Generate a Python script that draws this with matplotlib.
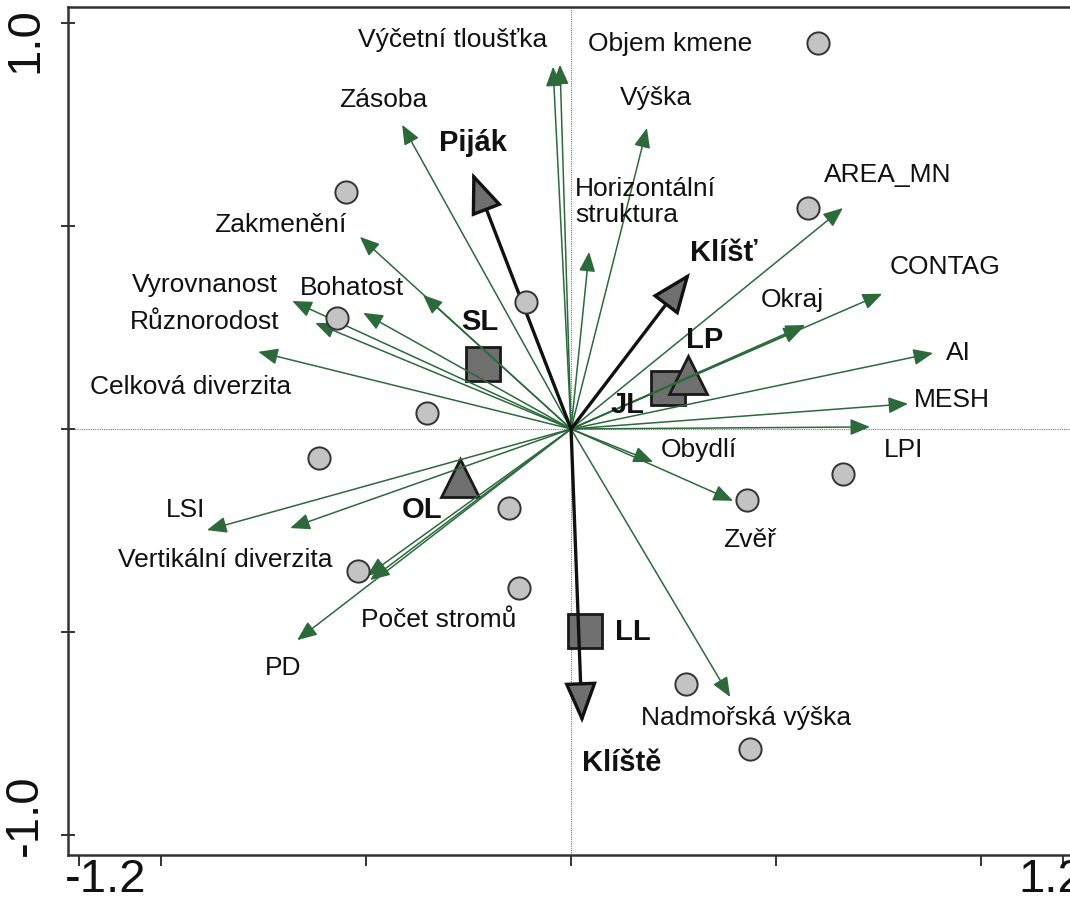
import numpy as np
import matplotlib
matplotlib.use("Agg")
import matplotlib.pyplot as plt
import matplotlib.transforms as mtransforms
from matplotlib.patches import FancyArrowPatch

plt.rcParams['font.family'] = ['Liberation Sans', 'DejaVu Sans']

# environmental variables (green arrows), tips in ordination units
env_names = ['Výčetní tloušťka', 'Objem kmene', 'Zásoba', 'Výška', 'Horizontální struktura',
             'AREA_MN', 'Zakmenění', 'Bohatost', 'Bohatost 2', 'Vyrovnanost', 'Různorodost',
             'Celková diverzita', 'CONTAG', 'Okraj', 'Okraj 2', 'AI', 'MESH', 'LPI', 'Obydlí',
             'Zvěř', 'Nadmořská výška', 'LSI', 'Vertikální diverzita', 'Počet stromů',
             'Počet stromů 2', 'PD']
env_x = [-0.044, -0.027, -0.412, 0.185, 0.044, 0.663, -0.515, -0.361, -0.507, -0.680, -0.624,
         -0.763, 0.759, 0.571, 0.566, 0.883, 0.822, 0.729, 0.200, 0.395, 0.388, -0.888, -0.685,
         -0.490, -0.498, -0.668]
env_y = [0.892, 0.897, 0.749, 0.741, 0.436, 0.544, 0.473, 0.330, 0.286, 0.315, 0.261, 0.190,
         0.333, 0.256, 0.250, 0.187, 0.062, 0.005, -0.081, -0.177, -0.660, -0.249, -0.244,
         -0.372, -0.362, -0.520]

# labels of the variables
lab_text = ['Výčetní tloušťka', 'Objem kmene', 'Zásoba', 'Výška', 'AREA_MN', 'Zakmenění',
            'CONTAG', 'Vyrovnanost', 'Bohatost', 'Okraj', 'Různorodost', 'AI', 'Celková diverzita',
            'MESH', 'LPI', 'Obydlí', 'LSI', 'Zvěř', 'Vertikální diverzita', 'Počet stromů', 'PD',
            'Nadmořská výška']
lab_x = [-0.288, 0.241, -0.459, 0.207, 0.773, -0.710, 0.912, -0.893, -0.534, 0.539, -0.893,
         0.944, -0.929, 0.929, 0.810, 0.312, -0.941, 0.435, -0.844, -0.324, -0.702, 0.426]
lab_y = [0.958, 0.948, 0.810, 0.815, 0.626, 0.502, 0.399, 0.355, 0.347, 0.318, 0.264, 0.187,
         0.103, 0.071, -0.052, -0.052, -0.200, -0.273, -0.323, -0.470, -0.589, -0.712]

# species (black arrows)
sp_names = ['Piják', 'Klíšť', 'Klíště']
sp_x = [-0.241, 0.290, 0.027]
sp_y = [0.631, 0.384, -0.724]
sp_lab_x = [-0.239, 0.373, 0.124]
sp_lab_y = [0.704, 0.433, -0.823]

# centroids
sq_names = ['SL', 'JL', 'LL']
sq_x = [-0.215, 0.237, 0.034]
sq_y = [0.160, 0.101, -0.498]
sq_lab_x = [-0.222, 0.137, 0.151]
sq_lab_y = [0.264, 0.059, -0.500]
tri_names = ['LP', 'OL']
tri_x = [0.285, -0.271]
tri_y = [0.133, -0.121]
tri_lab_x = [0.327, -0.363]
tri_lab_y = [0.219, -0.200]

# samples
smp_x = [0.602, -0.549, 0.578, -0.110, -0.571, -0.351, -0.615, -0.151, -0.520, -0.127,
         0.280, 0.437, 0.429, 0.663]
smp_y = [0.951, 0.584, 0.544, 0.313, 0.273, 0.039, -0.071, -0.195, -0.350, -0.392,
         -0.628, -0.788, -0.175, -0.111]

green = '#2c6a3c'

fig = plt.figure(figsize=(10.7, 9.1), dpi=100)
ax = fig.add_axes([68/1070, 55/910, 1 - 68/1070, 848/910])
ax.set_xlim(-1.227, 1.217)
ax.set_ylim(-1.049, 1.039)

ax.axhline(0, color='#777777', lw=0.8, ls=(0, (1, 1)), zorder=0)
ax.axvline(0, color='#777777', lw=0.8, ls=(0, (1, 1)), zorder=0)

# centroids below the arrows
ax.plot(sq_x, sq_y, 's', ms=24, mfc='#6f6f6f', mec='#1a1a1a', mew=2, zorder=1, ls='none')
ax.plot(tri_x, tri_y, '^', ms=28, mfc='#6f6f6f', mec='#1a1a1a', mew=2, zorder=1, ls='none')

for x, y in zip(env_x, env_y):
    a = FancyArrowPatch((0, 0), (x, y), arrowstyle='-|>,head_length=0.6,head_width=0.25',
                        mutation_scale=20, color=green, lw=1.1, shrinkA=0, shrinkB=0, zorder=2)
    ax.add_patch(a)

for x, y in zip(sp_x, sp_y):
    a = FancyArrowPatch((0, 0), (x, y), arrowstyle='-|>,head_length=1.25,head_width=0.5',
                        mutation_scale=20, fc='#6f6f6f', ec='#111111', lw=2.4,
                        shrinkA=0, shrinkB=0, zorder=3, joinstyle='miter')
    ax.add_patch(a)

ax.plot(smp_x, smp_y, 'o', ms=16, mfc='#c3c3c3', mec='#333333', mew=1.4, zorder=4, ls='none')

for t, x, y in zip(lab_text, lab_x, lab_y):
    ax.text(x, y, t, fontsize=19, ha='center', va='center', color='#111111', zorder=5)
ax.text(0.010, 0.559, 'Horizontální\nstruktura', fontsize=19, ha='left', va='center',
        linespacing=1.15, color='#111111', zorder=5)

for names, xs, ys in [(sp_names, sp_lab_x, sp_lab_y), (sq_names, sq_lab_x, sq_lab_y),
                      (tri_names, tri_lab_x, tri_lab_y)]:
    for t, x, y in zip(names, xs, ys):
        ax.text(x, y, t, fontsize=21, fontweight='bold', ha='center', va='center',
                color='#111111', zorder=5)

# axes
for s in ['left', 'bottom', 'top']:
    ax.spines[s].set_linewidth(1.8)
    ax.spines[s].set_color('#333333')
ax.spines['right'].set_visible(False)

ax.set_xticks([-1.2, -1.0, -0.5, 0, 0.5, 1.0, 1.2])
ax.set_xticklabels(['-1.2', '', '', '', '', '', '1.2'])
ax.set_yticks([-1.0, -0.5, 0, 0.5, 1.0])
ax.set_yticklabels(['-1.0', '', '', '', '1.0'])
ax.tick_params(axis='both', width=1.4, color='#333333', labelsize=34, labelcolor='#111111')
ax.tick_params(axis='x', direction='out', length=8, pad=-6)
ax.tick_params(axis='y', direction='inout', length=10, pad=10)
for lab in ax.get_yticklabels():
    lab.set_rotation(90)
    lab.set_va('center')

xl = ax.get_xticklabels()
xl[0].set_transform(xl[0].get_transform() + mtransforms.ScaledTranslation(0.27, 0, fig.dpi_scale_trans))
xl[-1].set_transform(xl[-1].get_transform() + mtransforms.ScaledTranslation(-0.12, 0, fig.dpi_scale_trans))
yl = ax.get_yticklabels()
yl[0].set_transform(yl[0].get_transform() + mtransforms.ScaledTranslation(0, 0.20, fig.dpi_scale_trans))
yl[-1].set_transform(yl[-1].get_transform() + mtransforms.ScaledTranslation(0, -0.17, fig.dpi_scale_trans))

fig.savefig('out.png', dpi=100)
